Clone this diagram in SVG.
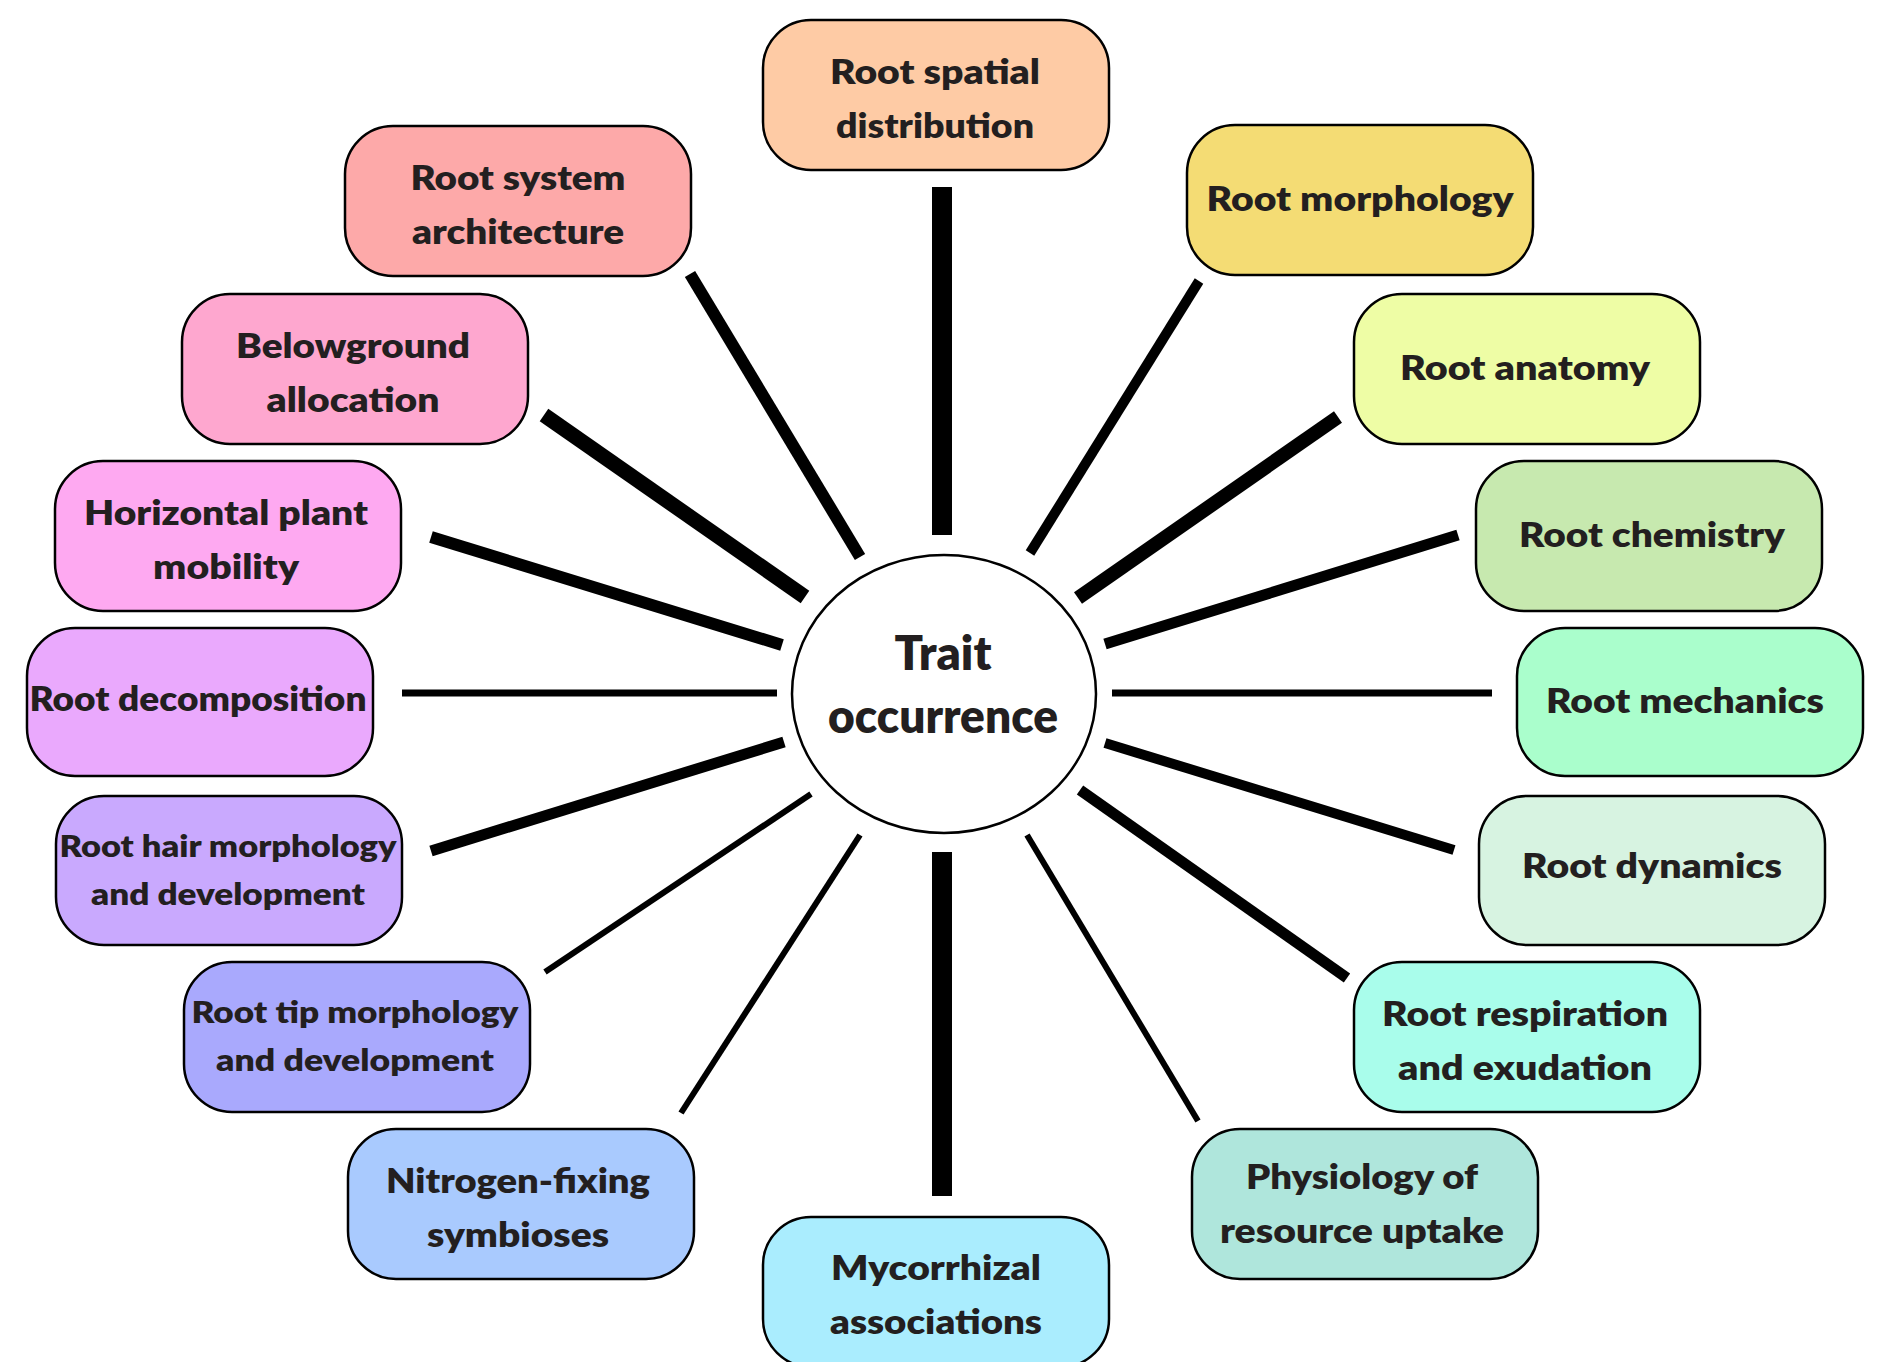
<svg xmlns="http://www.w3.org/2000/svg" width="1879" height="1362" viewBox="0 0 1879 1362">
<style>
.box{stroke:#000;stroke-width:2.5}
.t{font-family:Lato,"Open Sans","Liberation Sans",sans-serif;font-weight:800;font-size:33px;fill:#231f20;text-anchor:middle}
.s{font-size:31px}
.c{font-size:47px}
.ln{stroke:#000;stroke-linecap:butt;fill:none}
</style>
<rect width="1879" height="1362" fill="#fff"/>
<g id="connectors" class="ln">
<line x1="942" y1="187" x2="942" y2="535" stroke-width="20"/>
<line x1="942" y1="852" x2="942" y2="1196" stroke-width="20"/>
<line x1="690" y1="274" x2="860" y2="557" stroke-width="12"/>
<line x1="544" y1="415" x2="805" y2="597" stroke-width="15"/>
<line x1="431" y1="537" x2="782" y2="645" stroke-width="12"/>
<line x1="402" y1="693" x2="777" y2="693" stroke-width="7"/>
<line x1="784" y1="742" x2="431" y2="851" stroke-width="11"/>
<line x1="811" y1="794" x2="545" y2="972" stroke-width="6"/>
<line x1="860" y1="835" x2="681" y2="1113" stroke-width="6"/>
<line x1="1199" y1="281" x2="1030" y2="553" stroke-width="10"/>
<line x1="1338" y1="417" x2="1078" y2="598" stroke-width="14"/>
<line x1="1458" y1="535" x2="1105" y2="644" stroke-width="11"/>
<line x1="1112" y1="693" x2="1492" y2="693" stroke-width="7"/>
<line x1="1105" y1="743" x2="1454" y2="850" stroke-width="10"/>
<line x1="1080" y1="790" x2="1347" y2="978" stroke-width="11"/>
<line x1="1027" y1="835" x2="1198" y2="1121" stroke-width="6"/>
</g>
<g id="center">
<ellipse cx="944" cy="694" rx="152" ry="139" fill="#fff" stroke="#000" stroke-width="2.5"/>
<text class="t c" x="943" y="670" textLength="97" lengthAdjust="spacingAndGlyphs">Trait</text>
<text class="t c" x="943" y="733" textLength="230" lengthAdjust="spacingAndGlyphs">occurrence</text>
</g>
<g id="n-spatial">
<rect class="box" x="763" y="20" width="346" height="150" rx="48" fill="#FECBA5"/>
<text class="t" x="935" y="84" textLength="210" lengthAdjust="spacingAndGlyphs">Root spatial</text>
<text class="t" x="935" y="138" textLength="198" lengthAdjust="spacingAndGlyphs">distribution</text>
</g>
<g id="n-architecture">
<rect class="box" x="345" y="126" width="346" height="150" rx="48" fill="#FDA9A9"/>
<text class="t" x="518" y="190" textLength="215" lengthAdjust="spacingAndGlyphs">Root system</text>
<text class="t" x="518" y="244" textLength="212" lengthAdjust="spacingAndGlyphs">architecture</text>
</g>
<g id="n-morphology">
<rect class="box" x="1187" y="125" width="346" height="150" rx="48" fill="#F4DC74"/>
<text class="t" x="1360" y="211" textLength="307" lengthAdjust="spacingAndGlyphs">Root morphology</text>
</g>
<g id="n-allocation">
<rect class="box" x="182" y="294" width="346" height="150" rx="48" fill="#FEA7CF"/>
<text class="t" x="353" y="358" textLength="234" lengthAdjust="spacingAndGlyphs">Belowground</text>
<text class="t" x="353" y="412" textLength="173" lengthAdjust="spacingAndGlyphs">allocation</text>
</g>
<g id="n-anatomy">
<rect class="box" x="1354" y="294" width="346" height="150" rx="48" fill="#EEFDA5"/>
<text class="t" x="1525" y="380" textLength="250" lengthAdjust="spacingAndGlyphs">Root anatomy</text>
</g>
<g id="n-mobility">
<rect class="box" x="55" y="461" width="346" height="150" rx="48" fill="#FEA9F1"/>
<text class="t" x="226" y="525" textLength="284" lengthAdjust="spacingAndGlyphs">Horizontal plant</text>
<text class="t" x="226" y="579" textLength="146" lengthAdjust="spacingAndGlyphs">mobility</text>
</g>
<g id="n-chemistry">
<rect class="box" x="1476" y="461" width="346" height="150" rx="48" fill="#C7E9AF"/>
<text class="t" x="1652" y="547" textLength="266" lengthAdjust="spacingAndGlyphs">Root chemistry</text>
</g>
<g id="n-decomposition">
<rect class="box" x="27" y="628" width="346" height="148" rx="48" fill="#EAA9FD"/>
<text class="t" x="198" y="711" textLength="337" lengthAdjust="spacingAndGlyphs">Root decomposition</text>
</g>
<g id="n-mechanics">
<rect class="box" x="1517" y="628" width="346" height="148" rx="48" fill="#AAFECC"/>
<text class="t" x="1685" y="713" textLength="278" lengthAdjust="spacingAndGlyphs">Root mechanics</text>
</g>
<g id="n-roothair">
<rect class="box" x="56" y="796" width="346" height="149" rx="48" fill="#C9A9FE"/>
<text class="t s" x="228" y="857" textLength="337" lengthAdjust="spacingAndGlyphs">Root hair morphology</text>
<text class="t s" x="228" y="905" textLength="274" lengthAdjust="spacingAndGlyphs">and development</text>
</g>
<g id="n-dynamics">
<rect class="box" x="1479" y="796" width="346" height="149" rx="48" fill="#D7F3E1"/>
<text class="t" x="1652" y="878" textLength="260" lengthAdjust="spacingAndGlyphs">Root dynamics</text>
</g>
<g id="n-roottip">
<rect class="box" x="184" y="962" width="346" height="150" rx="48" fill="#A9A9FD"/>
<text class="t s" x="355" y="1023" textLength="327" lengthAdjust="spacingAndGlyphs">Root tip morphology</text>
<text class="t s" x="355" y="1071" textLength="278" lengthAdjust="spacingAndGlyphs">and development</text>
</g>
<g id="n-respiration">
<rect class="box" x="1354" y="962" width="346" height="150" rx="48" fill="#A9FDEB"/>
<text class="t" x="1525" y="1026" textLength="286" lengthAdjust="spacingAndGlyphs">Root respiration</text>
<text class="t" x="1525" y="1080" textLength="254" lengthAdjust="spacingAndGlyphs">and exudation</text>
</g>
<g id="n-nfixing">
<rect class="box" x="348" y="1129" width="346" height="150" rx="48" fill="#A9CAFE"/>
<text class="t" x="518" y="1193" textLength="264" lengthAdjust="spacingAndGlyphs">Nitrogen-fixing</text>
<text class="t" x="518" y="1247" textLength="182" lengthAdjust="spacingAndGlyphs">symbioses</text>
</g>
<g id="n-physiology">
<rect class="box" x="1192" y="1129" width="346" height="150" rx="48" fill="#AFE6DC"/>
<text class="t" x="1362" y="1189" textLength="232" lengthAdjust="spacingAndGlyphs">Physiology of</text>
<text class="t" x="1362" y="1243" textLength="284" lengthAdjust="spacingAndGlyphs">resource uptake</text>
</g>
<g id="n-mycorrhizal">
<rect class="box" x="763" y="1217" width="346" height="150" rx="48" fill="#AAEDFE"/>
<text class="t" x="936" y="1280" textLength="210" lengthAdjust="spacingAndGlyphs">Mycorrhizal</text>
<text class="t" x="936" y="1334" textLength="212" lengthAdjust="spacingAndGlyphs">associations</text>
</g>
</svg>
